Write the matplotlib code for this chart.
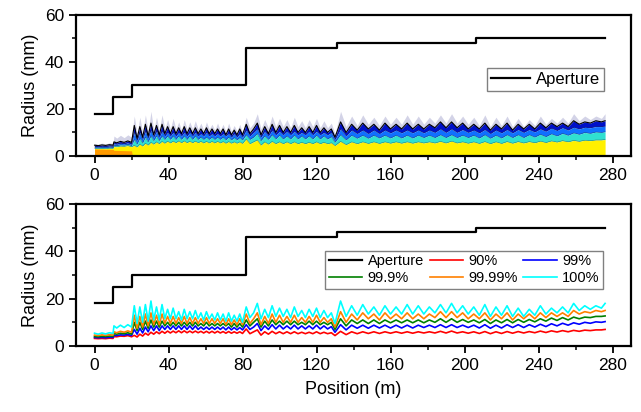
import matplotlib
matplotlib.use("Agg")
import matplotlib.pyplot as plt
from matplotlib.ticker import MultipleLocator

plt.rcParams['font.family'] = ['Liberation Sans', 'DejaVu Sans']

# Aperture radius (mm) vs position (m), stepwise
ap_pos = [0, 10, 20, 82, 131, 206, 276]
ap_r = [18, 25, 30, 46, 48, 50, 50]

# Sample positions along the line (m)
pos = [0, 2, 4, 6, 8, 10, 10.5, 12, 14, 16, 18, 20,
       21.5, 23, 24.5, 26, 27.5, 29, 30.5, 32, 33.5, 35,
       36.5, 38, 39.5, 41, 42.5, 44, 45.5, 47, 48.5, 50,
       51.5, 53, 54.5, 56, 57.5, 59, 60.5, 62, 63.5, 65,
       66.5, 68, 69.5, 71, 72.5, 74, 75.5, 77, 78.5, 80,
       82, 84, 86, 88, 90, 92, 94, 96, 98, 100, 102, 104, 106,
       108, 110, 112, 114, 116, 118, 120, 122, 124, 126, 128, 130,
       133, 136, 139, 142, 145, 148, 151, 154, 157, 160, 163, 166,
       169, 172, 175, 178, 181, 184, 187, 190, 193, 196, 199, 202,
       205, 208, 211, 214, 217, 220, 223, 226, 229, 232, 235, 238,
       241, 244, 247, 250, 253, 256, 259, 262, 265, 268, 271, 274,
       276]

# Beam envelope radius (mm) containing given fraction of particles
r90 = [3.2, 3.1, 3.2, 3.1, 3.3, 3.2, 4.0, 3.9, 4.2, 4.1, 4.4, 3.9,
       4.5, 3.8, 5.0, 4.2, 5.4, 4.6, 5.8, 5.0, 6.0, 5.2,
       6.2, 5.4, 6.3, 5.5, 6.3, 5.6, 6.4, 5.6, 6.4, 5.6,
       6.3, 5.6, 6.3, 5.6, 6.2, 5.5, 6.2, 5.5, 6.2, 5.5,
       6.2, 5.5, 6.1, 5.4, 6.1, 5.4, 6.0, 5.4, 6.0, 5.3,
       7.2, 5.2, 6.0, 6.8, 4.6, 6.0, 5.0, 6.2, 5.2, 6.0, 5.2, 6.0, 5.2,
       6.0, 5.2, 5.8, 5.2, 5.8, 5.2, 6.0, 5.2, 5.8, 5.2, 5.6, 4.4,
       6.2, 4.8, 6.0, 5.2, 6.0, 5.3, 6.0, 5.3, 6.0, 5.4, 6.0, 5.4,
       6.0, 5.4, 6.0, 5.5, 6.0, 5.5, 6.2, 5.5, 6.3, 5.5, 6.0, 5.4,
       6.0, 5.3, 6.1, 5.2, 6.0, 5.3, 6.1, 5.4, 6.1, 5.5, 6.1, 5.6,
       6.3, 5.7, 6.4, 5.9, 6.5, 6.0, 6.6, 6.2, 6.7, 6.5, 6.8, 6.8,
       7.0]
r99 = [3.6, 3.5, 3.6, 3.5, 3.7, 3.6, 4.5, 4.4, 4.7, 4.6, 4.9, 4.4,
       7.0, 5.0, 7.5, 5.5, 8.0, 6.0, 8.5, 6.5, 8.5, 6.5,
       8.5, 7.0, 8.5, 7.0, 8.5, 7.0, 8.5, 7.0, 8.5, 7.0,
       8.5, 7.0, 8.5, 7.0, 8.0, 7.0, 8.0, 7.0, 8.0, 7.0,
       8.0, 7.0, 8.0, 6.8, 8.0, 6.8, 7.8, 6.8, 7.8, 6.8,
       9.0, 7.0, 8.0, 9.5, 6.5, 8.5, 7.0, 9.0, 7.2, 8.8, 7.2, 8.5, 7.2,
       8.8, 7.2, 8.5, 7.2, 8.5, 7.2, 8.8, 7.2, 8.5, 7.2, 8.2, 5.8,
       9.0, 6.8, 8.8, 7.5, 8.8, 7.5, 8.8, 7.6, 8.8, 7.6, 8.8, 7.6,
       8.8, 7.6, 8.8, 7.8, 8.8, 7.8, 9.0, 7.8, 9.0, 7.8, 8.8, 7.8,
       8.8, 7.6, 9.0, 7.5, 8.8, 7.6, 9.0, 7.8, 9.0, 7.8, 9.0, 8.0,
       9.2, 8.2, 9.4, 8.5, 9.6, 8.8, 9.8, 9.2, 10.0, 9.6, 10.2, 10.0,
       10.3]
r999 = [4.0, 3.9, 4.1, 4.0, 4.2, 4.1, 5.2, 5.0, 5.4, 5.2, 5.6, 5.0,
        10.0, 6.5, 10.0, 7.0, 10.5, 7.5, 11.0, 8.0, 10.5, 8.0,
        10.5, 8.5, 10.0, 8.5, 10.0, 8.5, 10.0, 8.5, 10.0, 8.5,
        10.0, 8.5, 10.0, 8.5, 9.5, 8.5, 10.0, 8.5, 9.5, 8.5,
        9.5, 8.5, 9.5, 8.5, 9.5, 8.0, 9.5, 8.0, 9.5, 8.0,
        11.0, 8.5, 10.0, 11.5, 8.0, 10.5, 8.5, 11.0, 9.0, 10.5, 9.0, 10.5, 9.0,
        10.5, 9.0, 10.0, 9.0, 10.5, 9.0, 10.5, 9.0, 10.0, 9.0, 10.0, 7.0,
        11.5, 8.5, 11.0, 9.5, 11.0, 9.5, 11.0, 9.5, 11.0, 9.8, 11.0, 9.8,
        11.0, 9.8, 11.0, 9.8, 11.0, 10.0, 11.5, 10.0, 11.5, 10.0, 11.2, 10.0,
        11.0, 9.8, 11.2, 9.5, 11.0, 9.8, 11.2, 9.8, 11.2, 10.0, 11.2, 10.2,
        11.5, 10.5, 11.8, 10.8, 12.0, 11.0, 12.2, 11.5, 12.2, 12.0, 12.5, 12.5,
        12.7]
r9999 = [4.6, 4.4, 4.7, 4.5, 4.8, 4.6, 6.0, 5.6, 6.2, 5.8, 6.4, 5.8,
         13.0, 7.5, 12.5, 8.0, 13.5, 8.5, 14.0, 9.0, 13.0, 9.0,
         13.5, 9.5, 12.5, 9.5, 12.5, 9.5, 12.0, 9.5, 12.5, 9.5,
         12.0, 9.5, 12.0, 9.5, 11.5, 9.5, 12.0, 9.5, 11.5, 9.5,
         11.5, 9.5, 11.5, 9.0, 11.5, 9.0, 11.0, 9.0, 11.5, 9.0,
         13.5, 9.5, 11.5, 14.0, 9.0, 12.5, 9.5, 13.5, 10.0, 13.0, 10.0, 12.5, 10.0,
         13.0, 10.0, 12.0, 10.0, 12.5, 10.0, 13.0, 10.0, 12.0, 10.0, 11.5, 8.0,
         14.5, 10.0, 13.5, 11.0, 14.0, 11.5, 13.5, 11.0, 14.0, 11.5, 13.5, 11.5,
         14.0, 11.5, 13.5, 11.5, 13.5, 12.0, 14.5, 12.0, 14.5, 12.0, 14.0, 11.5,
         13.5, 11.5, 14.0, 11.0, 13.5, 11.5, 14.0, 11.0, 13.5, 11.5, 13.5, 11.5,
         14.0, 12.0, 14.0, 12.5, 14.0, 12.5, 15.0, 13.5, 14.5, 14.0, 15.0, 14.5,
         15.0]
r100 = [5.4, 5.0, 5.5, 5.1, 5.6, 5.3, 8.5, 7.6, 8.8, 7.8, 9.0, 8.0,
        17.0, 9.5, 16.5, 10.0, 17.5, 10.5, 19.0, 11.0, 16.5, 11.0,
        17.5, 11.5, 15.5, 11.5, 16.0, 11.5, 14.5, 11.0, 15.5, 11.5,
        14.5, 11.5, 15.0, 11.5, 14.0, 11.0, 14.5, 11.5, 13.5, 11.0,
        14.0, 11.0, 13.5, 10.5, 14.0, 10.5, 13.0, 10.5, 13.5, 10.0,
        16.5, 12.0, 14.0, 18.0, 11.5, 15.5, 12.0, 17.0, 12.5, 16.0, 12.5, 15.5, 12.0,
        16.5, 12.5, 15.0, 12.0, 15.5, 12.5, 16.0, 12.0, 15.0, 12.0, 14.0, 9.5,
        19.0, 12.5, 17.0, 13.0, 17.5, 13.5, 16.5, 13.0, 17.0, 13.5, 16.5, 13.5,
        17.5, 13.5, 17.0, 13.5, 16.5, 14.0, 17.5, 14.0, 18.0, 14.0, 17.0, 13.5,
        16.5, 13.0, 17.5, 12.5, 16.5, 13.0, 17.0, 12.5, 16.0, 12.5, 15.5, 13.0,
        17.0, 13.5, 16.0, 14.0, 16.5, 14.0, 18.0, 15.0, 17.0, 15.5, 17.0, 16.0,
        18.0]

# Dense beam core at the start (mm)
core_pos = [0, 10, 10.5, 20, 20.5]
core_r = [3.0, 2.8, 2.4, 2.2, 0.0]

fig = plt.figure(figsize=(6.41, 4.12), dpi=100)
ax1 = fig.add_axes([0.1186, 0.6214, 0.8658, 0.3422])
ax2 = fig.add_axes([0.1186, 0.1602, 0.8658, 0.3447])

# --- top panel: particle density bands ---
zero = [0] * len(pos)
ax1.fill_between(pos, r9999, r100, color='#5050a0', alpha=0.25, lw=0)
ax1.fill_between(pos, r999, r9999, color='#0010c8', lw=0)
ax1.fill_between(pos, r99, r999, color='#1070ff', lw=0)
ax1.fill_between(pos, r90, r99, color='#30e0d0', lw=0)
ax1.fill_between(pos, zero, r90, color='#fff000', lw=0)
ax1.fill_between(core_pos, 0, core_r, color='#ff9a00', lw=0)
for r in (r90, r99, r999):
    ax1.plot(pos, r, color='#303030', lw=0.35, alpha=0.6)
ax1.plot(pos, r9999, color='black', lw=0.8)
ax1.step(ap_pos, ap_r, where='post', color='black', lw=1.6, label='Aperture')
ax1.legend(loc='upper right', bbox_to_anchor=(0.951, 0.624), borderaxespad=0,
           fontsize=12, frameon=True, fancybox=False, edgecolor='#808080',
           framealpha=1, handlelength=2.3, handletextpad=0.35, borderpad=0.25)

# --- bottom panel: envelope lines ---
ap_line, = ax2.step(ap_pos, ap_r, where='post', color='black', lw=1.6, label='Aperture')
l90, = ax2.plot(pos, r90, color='#ff0000', lw=1.2, label='90%')
l99, = ax2.plot(pos, r99, color='#0000ff', lw=1.2, label='99%')
l999, = ax2.plot(pos, r999, color='#008000', lw=1.2, label='99.9%')
l9999, = ax2.plot(pos, r9999, color='#ff8000', lw=1.2, label='99.99%')
l100, = ax2.plot(pos, r100, color='#00ffff', lw=1.2, label='100%')
handles = [ap_line, l999, l90, l9999, l99, l100]
ax2.legend(handles=handles, labels=[h.get_label() for h in handles],
           ncol=3, loc='upper right', bbox_to_anchor=(0.95, 0.671), borderaxespad=0,
           fontsize=10.5, frameon=True, fancybox=False, edgecolor='#808080',
           framealpha=1, handlelength=2.3, handletextpad=0.35,
           columnspacing=0.4, labelspacing=0.2, borderpad=0.25)

for ax in (ax1, ax2):
    ax.set_xlim(-10, 290)
    ax.set_ylim(0, 60)
    ax.xaxis.set_major_locator(MultipleLocator(40))
    ax.xaxis.set_minor_locator(MultipleLocator(20))
    ax.yaxis.set_major_locator(MultipleLocator(20))
    ax.yaxis.set_minor_locator(MultipleLocator(10))
    ax.tick_params(which='major', direction='out', length=5, width=1.3, labelsize=12.5)
    ax.tick_params(which='minor', direction='out', length=3, width=1.1)
    for sp in ax.spines.values():
        sp.set_linewidth(1.6)
    ax.set_ylabel('Radius (mm)', fontsize=13, labelpad=4)

ax2.set_xlabel('Position (m)', fontsize=13, labelpad=6)

fig.savefig('out.png', dpi=100)
